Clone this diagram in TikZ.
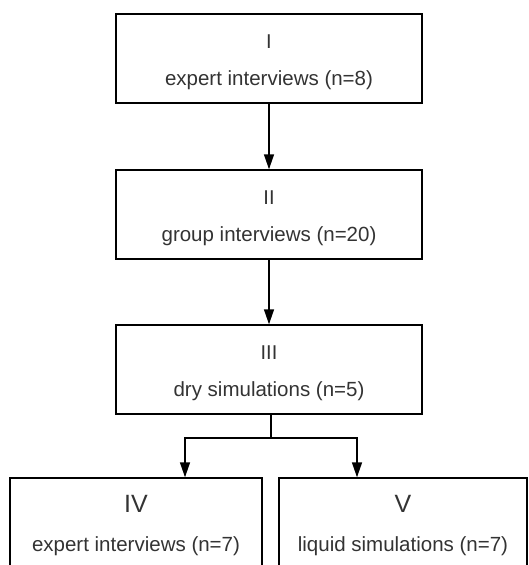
\documentclass[tikz,border=0pt]{standalone}
\usepackage{fontspec}
\setmainfont{Liberation Sans}
\usetikzlibrary{arrows.meta}
% numeral size, strut height, numeral
\newcommand{\stagenum}[3]{\rule{0pt}{#2pt}{\fontsize{#1}{23}\selectfont #3}}
\begin{document}
\begin{tikzpicture}[x=1pt,y=-1pt,
    stage/.style={draw, line width=1.4pt, inner sep=0pt, align=center, text=black!80, font=\fontsize{20.5}{23}\selectfont},
    flow/.style={line width=1.4pt, -{Triangle[length=15pt,width=10pt]}}]
    \useasboundingbox (0,0) rectangle (529,565);
    \clip (0,0) rectangle (529,565);
    % Sequential stages
    \node[stage, minimum width=306pt, minimum height=89pt] (one) at (269,58.5) {\stagenum{20}{20.3}{I}\\[14pt]expert interviews (n=8)};
    \node[stage, minimum width=306pt, minimum height=89pt] (two) at (269,214.5) {\stagenum{20}{20.3}{II}\\[14pt]group interviews (n=20)};
    \node[stage, minimum width=306pt, minimum height=89pt] (three) at (269,369.5) {\stagenum{20}{20.3}{III}\\[14pt]dry simulations (n=5)};
    % Parallel stages
    \node[stage, minimum width=252pt, minimum height=95.3pt] (four) at (136,525.65) {\stagenum{25}{0}{IV}\\[16pt]expert interviews (n=7)};
    \node[stage, minimum width=248pt, minimum height=95.3pt] (five) at (403,525.65) {\stagenum{25}{0}{V}\\[16pt]liquid simulations (n=7)};
    % Connectors
    \draw[flow] (one) -- (two);
    \draw[flow] (two) -- (three);
    \coordinate (split) at (271,438);
    \draw[line width=1.4pt] (three.south -| split) -- (split);
    \draw[flow] (split) -| ([xshift=49pt]four.north);
    \draw[flow] (split) -| ([xshift=-46pt]five.north);
\end{tikzpicture}
\end{document}
